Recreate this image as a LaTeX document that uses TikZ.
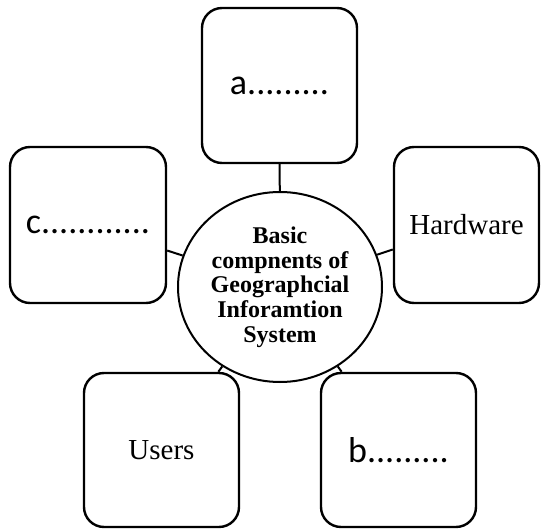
\documentclass[tikz,border=0pt]{standalone}
\usepackage{fontspec}
\setmainfont{Liberation Serif}
\newfontfamily\calib{Carlito}
\usetikzlibrary{shapes.geometric}

\tikzset{
  partbox/.style={draw, line width=2.4pt, rounded corners=20pt, inner sep=0pt},
  sanslabel/.style={font=\calib\fontsize{36}{40}\selectfont},
  seriflabel/.style={font=\fontsize{29}{32}\selectfont},
  hub/.style={draw, ellipse, line width=2pt, inner sep=0pt,
    minimum width=204pt, minimum height=190pt, align=center,
    font=\bfseries\fontsize{24}{24.7}\selectfont},
  conn/.style={line width=2pt}
}

\begin{document}
\begin{tikzpicture}[x=1pt, y=-1pt]
  \useasboundingbox (0,0) rectangle (541,529);

  % central component
  \node[hub] (gis) at (280,287)
    {Basic\\compnents of\\Geographcial\\Inforamtion\\System};

  % surrounding components
  \node[partbox, sanslabel, minimum width=155pt, minimum height=155pt]
    (top) at (279.5,85.5) {a.........};
  \node[partbox, sanslabel, minimum width=156pt, minimum height=156pt]
    (left) at (88,225) {c............};
  \node[partbox, seriflabel, minimum width=145pt, minimum height=156pt]
    (right) at (466.5,225) {Hardware};
  \node[partbox, seriflabel, minimum width=155pt, minimum height=154pt]
    (users) at (161.5,450) {Users};
  \node[partbox, sanslabel, minimum width=155pt, minimum height=154pt]
    (bottom) at (398.5,450) {b.........};

  % connectors
  \draw[conn] (gis) -- (top);
  \draw[conn] (gis) -- (left);
  \draw[conn] (gis) -- (right);
  \draw[conn] (gis) -- (users);
  \draw[conn] (gis) -- (bottom);
\end{tikzpicture}
\end{document}
